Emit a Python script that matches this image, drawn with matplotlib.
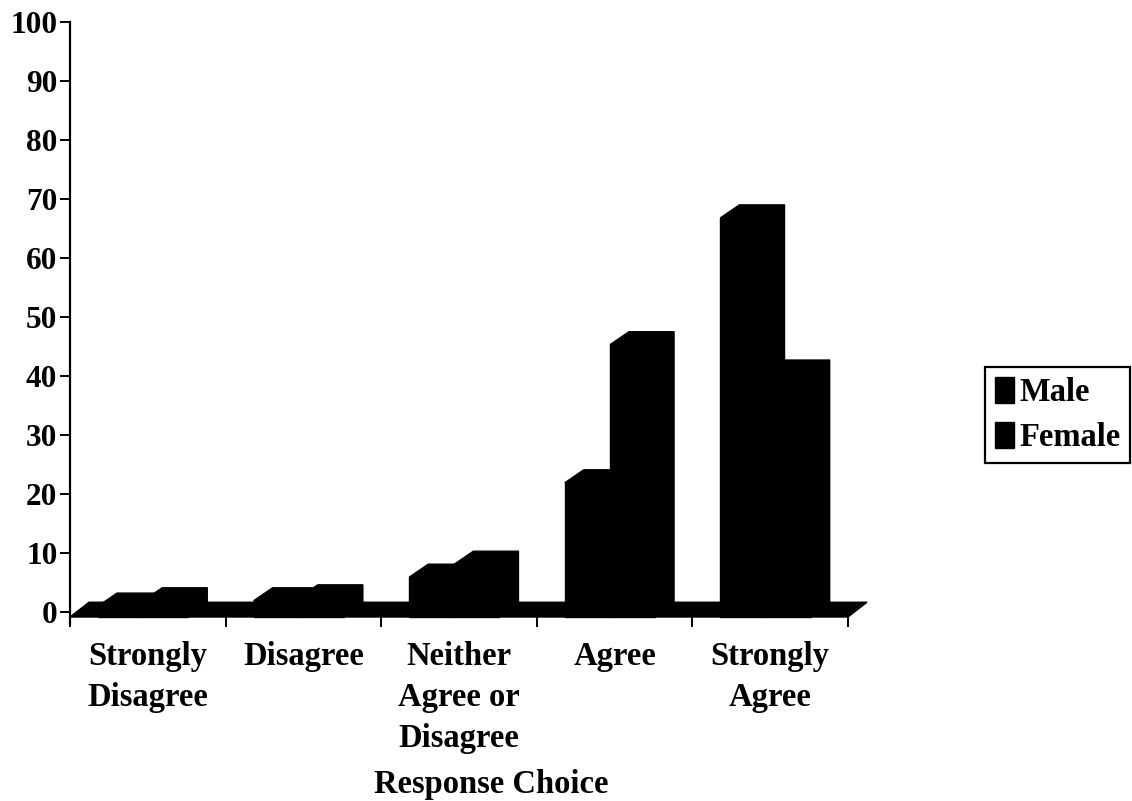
import matplotlib
matplotlib.use('Agg')
import matplotlib.pyplot as plt
from matplotlib.patches import Polygon, Patch

# survey responses (%), by gender
categories = ['Strongly\nDisagree', 'Disagree', 'Neither\nAgree or\nDisagree', 'Agree', 'Strongly\nAgree']
male = [1.0, 1.9, 5.9, 21.9, 66.8]
female = [1.9, 2.4, 8.1, 45.3, 40.5]
yticks = list(range(0, 101, 10))

plt.rcParams['font.family'] = ['Liberation Serif', 'DejaVu Serif']
plt.rcParams['font.weight'] = 'bold'

W, H = 1132, 801
fig = plt.figure(figsize=(W / 100, H / 100), dpi=100)

# plot area in pixels: left/right of the floor, top (100) and floor front edge
px_left, px_right, px_top, px_bottom = 70, 848, 22, 617
px_per_unit = 5.9
ymin = -(px_bottom - 612) / px_per_unit
ax = fig.add_axes([px_left / W, 1 - px_bottom / H,
                   (px_right - px_left) / W, (px_bottom - px_top) / H])
ax.set_xlim(0, len(categories))
ax.set_ylim(ymin, 100)

# fake 3-D depth offset (x in category units, y in value units)
dx = 19 / ((px_right - px_left) / len(categories))
dy = 13 / px_per_unit

# floor
n = len(categories)
floor = Polygon([(0, ymin), (n, ymin), (n + dx, ymin + dy + 0.3), (dx, ymin + dy + 0.3)],
                closed=True, fc='black', ec='black', lw=1, clip_on=False, zorder=1)
ax.add_patch(floor)

bw = 0.29
off = 0.18


def box(x0, v):
    # front face, top face and right side of one column
    ax.bar(x0, v - ymin, bw, bottom=ymin, align='edge', color='black', edgecolor='black',
           linewidth=1, zorder=3, clip_on=False)
    top = Polygon([(x0, v), (x0 + bw, v), (x0 + bw + dx, v + dy), (x0 + dx, v + dy)],
                  closed=True, fc='black', ec='black', lw=1, clip_on=False, zorder=2)
    side = Polygon([(x0 + bw, ymin), (x0 + bw + dx, ymin + dy), (x0 + bw + dx, v + dy), (x0 + bw, v)],
                   closed=True, fc='black', ec='black', lw=1, clip_on=False, zorder=2)
    ax.add_patch(top)
    ax.add_patch(side)


for i in range(n):
    box(i + off, male[i])
    box(i + off + bw, female[i])

for s in ['top', 'right', 'bottom']:
    ax.spines[s].set_visible(False)
ax.spines['left'].set_linewidth(1.6)
ax.spines['left'].set_bounds(ymin - 1.2, 100)

ax.set_yticks(yticks)
ax.set_yticklabels([str(t) for t in yticks])
ax.tick_params(axis='y', direction='out', length=7, width=1.4, labelsize=22.5, pad=2)

ax.set_xticks(range(n + 1))
ax.set_xticklabels([''] * (n + 1))
ax.set_xticks([i + 0.5 for i in range(n)], minor=True)
ax.set_xticklabels(categories, minor=True, fontsize=23.5, fontweight='bold', linespacing=1.42)
ax.tick_params(axis='x', which='major', direction='out', length=7, width=1.4)
ax.tick_params(axis='x', which='minor', length=0, pad=17)

fig.text(491 / W, 1 - 785 / H, 'Response Choice', ha='center', va='center',
         fontsize=23.5, fontweight='bold')

leg = fig.legend(handles=[Patch(fc='black', ec='black'), Patch(fc='black', ec='black')],
                 labels=['Male', 'Female'], loc='upper left',
                 bbox_to_anchor=(985 / W, 1 - 367 / H), bbox_transform=fig.transFigure,
                 borderaxespad=0, fontsize=23.5, handlelength=0.6, handleheight=0.85,
                 handletextpad=0.15, labelspacing=0.42, borderpad=0.3,
                 fancybox=False, framealpha=1, edgecolor='black')
leg.get_frame().set_linewidth(1.6)

fig.savefig('out.png', dpi=100)
